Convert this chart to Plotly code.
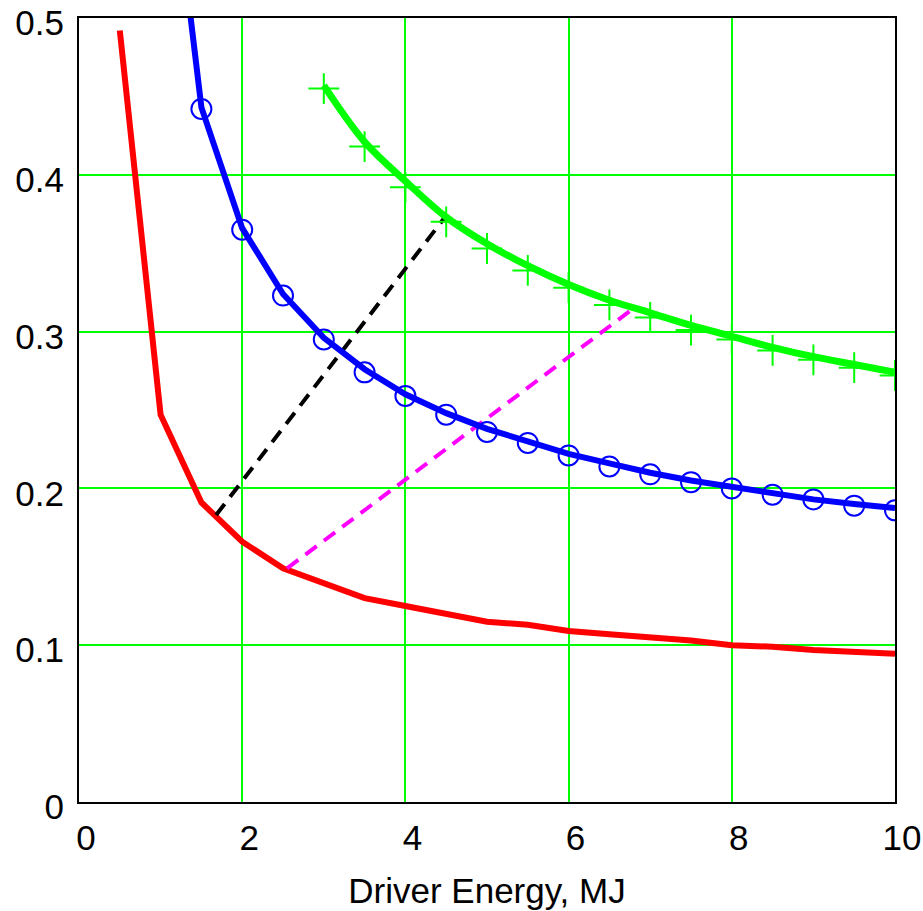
import plotly.graph_objects as go

# Driver energy grid (MJ)
energy_red = [0.5, 1.0, 1.5, 2.0, 2.5, 3.0, 3.5, 4.0, 4.5, 5.0, 5.5, 6.0, 6.5, 7.0, 7.5, 8.0, 8.5, 9.0, 9.5, 10.0]
red_values = [0.492, 0.247, 0.191, 0.166, 0.149, 0.139, 0.130, 0.125, 0.120, 0.115, 0.113, 0.109,
              0.107, 0.105, 0.103, 0.100, 0.099, 0.097, 0.096, 0.0945]

energy_blue_line = [1.0, 1.5, 2.0, 2.5, 3.0, 3.5, 4.0, 4.5, 5.0, 5.5, 6.0, 6.5, 7.0, 7.5, 8.0, 8.5, 9.0, 9.5, 10.0]
blue_line_values = [0.66, 0.443, 0.366, 0.324, 0.296, 0.276, 0.260, 0.248, 0.238, 0.230, 0.222, 0.216,
                    0.210, 0.205, 0.201, 0.197, 0.193, 0.190, 0.1875]

energy_blue_pts = [1.5, 2.0, 2.5, 3.0, 3.5, 4.0, 4.5, 5.0, 5.5, 6.0, 6.5, 7.0, 7.5, 8.0, 8.5, 9.0, 9.5, 10.0]
blue_point_values = [0.442, 0.365, 0.323, 0.295, 0.274, 0.259, 0.247, 0.236, 0.229, 0.221, 0.214, 0.209,
                     0.204, 0.200, 0.196, 0.193, 0.189, 0.186]

energy_green = [3.0, 3.5, 4.0, 4.5, 5.0, 5.5, 6.0, 6.5, 7.0, 7.5, 8.0, 8.5, 9.0, 9.5, 10.0]
green_line_values = [0.457, 0.421, 0.396, 0.373, 0.356, 0.342, 0.330, 0.320, 0.312, 0.304, 0.297, 0.290,
                     0.284, 0.279, 0.274]
green_point_values = [0.455, 0.418, 0.392, 0.370, 0.353, 0.339, 0.328, 0.317, 0.309, 0.301, 0.295, 0.288,
                      0.282, 0.277, 0.272]

# Connecting dashed segments
black_dash_x = [1.68, 4.5]
black_dash_y = [0.183, 0.374]
magenta_dash_x = [2.55, 6.8]
magenta_dash_y = [0.149, 0.315]

x_ticks = [0, 2, 4, 6, 8, 10]
y_ticks = [0, 0.1, 0.2, 0.3, 0.4, 0.5]
y_tick_text = ["0", "0.1", "0.2", "0.3", "0.4", "0.5"]

fig = go.Figure()

fig.add_trace(go.Scatter(x=energy_red, y=red_values, mode="lines",
                         line=dict(color="#ff0000", width=6)))
fig.add_trace(go.Scatter(x=black_dash_x, y=black_dash_y, mode="lines",
                         line=dict(color="#000000", width=4, dash="14px,9px")))
fig.add_trace(go.Scatter(x=magenta_dash_x, y=magenta_dash_y, mode="lines",
                         line=dict(color="#ff00ff", width=4, dash="14px,9px")))
fig.add_trace(go.Scatter(x=energy_blue_line, y=blue_line_values, mode="lines",
                         line=dict(color="#0000ff", width=6)))
fig.add_trace(go.Scatter(x=energy_blue_pts, y=blue_point_values, mode="markers",
                         marker=dict(symbol="circle-open", size=20, color="#0000ff",
                                     line=dict(color="#0000ff", width=2))))
fig.add_trace(go.Scatter(x=energy_green, y=green_line_values, mode="lines",
                         line=dict(color="#00ff00", width=7, shape="spline")))
fig.add_trace(go.Scatter(x=energy_green, y=green_point_values, mode="markers",
                         marker=dict(symbol="cross-thin", size=22, color="#00ff00",
                                     line=dict(color="#00ff00", width=2))))

axis_font = dict(family="Liberation Sans, Arial, sans-serif", size=35, color="#000000")

fig.update_layout(
    width=923, height=911,
    margin=dict(l=79, r=28, t=18, b=109),
    paper_bgcolor="white", plot_bgcolor="white",
    showlegend=False,
    font=axis_font,
    xaxis=dict(range=[0, 10], tickvals=x_ticks, ticktext=[str(v) for v in x_ticks],
               showgrid=True, gridcolor="#00ff00", gridwidth=2,
               showline=True, linecolor="#000000", linewidth=2, mirror=True,
               zeroline=False, ticks="", ticklabelstandoff=4, ticklabelshift=7,
               ticklabeloverflow="allow",
               title=dict(text="Driver Energy, MJ", standoff=22, font=axis_font),
               tickfont=axis_font, automargin=False),
    yaxis=dict(range=[0, 0.5], tickvals=y_ticks, ticktext=y_tick_text,
               showgrid=True, gridcolor="#00ff00", gridwidth=2,
               showline=True, linecolor="#000000", linewidth=2, mirror=True,
               zeroline=False, ticks="", ticklabelstandoff=6, ticklabelshift=5,
               ticklabeloverflow="allow",
               tickfont=axis_font, automargin=False),
)

fig.write_html("out.html")
